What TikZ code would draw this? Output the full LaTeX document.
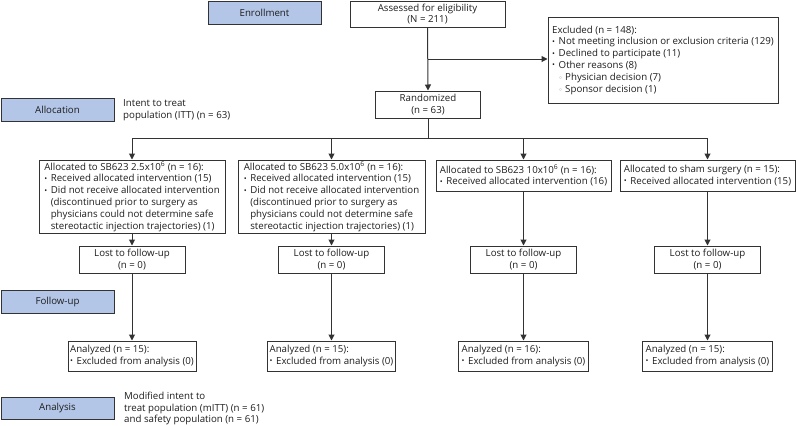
\documentclass[tikz,border=0pt]{standalone}
\usepackage{fontspec}
\setmainfont{Open Sans}
\newfontfamily\symfont{DejaVu Sans}
\usetikzlibrary{arrows.meta}
\definecolor{phase}{HTML}{B4C6E7}
\definecolor{edge}{HTML}{333333}
\definecolor{ink}{HTML}{1E1E1E}
\newcommand{\bul}{\makebox[6.5pt][l]{\raisebox{0.5pt}{\scalebox{0.8}{•}}}}
\newcommand{\subbul}{\hspace*{6.5pt}\makebox[6.5pt][l]{\textcolor{gray}{\symfont\scalebox{0.7}{◦}}}}
\newcommand{\cont}{\hspace*{6.5pt}}
\newcommand{\sx}{\textsuperscript{6}}
\begin{document}
\begin{tikzpicture}[x=1pt,y=-1pt,
  every node/.style={text=ink, font=\fontsize{9.7}{11.8}\selectfont},
  box/.style={draw=edge, line width=1pt, inner sep=1.5pt, align=left},
  cbox/.style={draw=edge, line width=1pt, inner sep=1pt, align=center},
  phasebox/.style={draw=edge, fill=phase, line width=1pt, align=center, minimum width=113pt, minimum height=23pt, inner sep=0pt},
  note/.style={anchor=west, align=left, inner sep=0pt},
  arr/.style={draw=edge, line width=1pt, -{Triangle[length=6pt,width=6pt]}},
  ln/.style={draw=edge, line width=1pt}
]
\useasboundingbox (0,0) rectangle (796,426);

% phase labels
\node[phasebox] (enroll) at (264.5,12.5) {Enrollment};
\node[phasebox] (alloc) at (57.5,109.5) {Allocation};
\node[phasebox] (follow) at (57.5,301.5) {Follow-up};
\node[phasebox, minimum height=22pt] (anal) at (57.5,408) {Analysis};
\node[note] (itt) at (123,110) {Intent to treat\\population (ITT) (n = 63)};
\node[note] (mitt) at (124,408.5) {Modified intent to\\treat population (mITT) (n = 61)\\and safety population (n = 61)};

% top
\node[cbox, minimum width=155pt, minimum height=26pt] (assess) at (427.5,14) {Assessed for eligibility\\(N = 211)};
\node[box, minimum width=230pt, minimum height=86pt] (excl) at (663,60)
 {Excluded (n = 148):\\
  \bul Not meeting inclusion or exclusion criteria (129)\\
  \bul Declined to participate (11)\\
  \bul Other reasons (8)\\
  \subbul Physician decision (7)\\
  \subbul Sponsor decision (1)};
\node[cbox, minimum width=105pt, minimum height=27pt] (rand) at (428,104.5) {Randomized\\(n = 63)};

% allocation boxes
\node[box, minimum width=186pt, minimum height=73pt] (b1) at (132,196.5)
 {Allocated to SB623 2.5x10\sx{} (n = 16):\\
  \bul Received allocated intervention (15)\\
  \bul Did not receive allocated intervention\\
  \cont(discontinued prior to surgery as\\
  \cont physicians could not determine safe\\
  \cont stereotactic injection trajectories) (1)};
\node[box, minimum width=187pt, minimum height=73pt] (b2) at (331.5,196.5)
 {Allocated to SB623 5.0x10\sx{} (n = 16):\\
  \bul Received allocated intervention (15)\\
  \bul Did not receive allocated intervention\\
  \cont(discontinued prior to surgery as\\
  \cont physicians could not determine safe\\
  \cont stereotactic injection trajectories) (1)};
\node[box, minimum width=175pt, minimum height=31pt] (b3) at (523.5,175.5)
 {Allocated to SB623 10x10\sx{} (n = 16):\\
  \bul Received allocated intervention (16)};
\node[box, minimum width=175pt, minimum height=31pt] (b4) at (707.5,175.5)
 {Allocated to sham surgery (n = 15):\\
  \bul Received allocated intervention (15)};

% lost to follow-up
\node[cbox, minimum width=106pt, minimum height=27pt] (l1) at (132,259.5) {Lost to follow-up\\(n = 0)};
\node[cbox, minimum width=106pt, minimum height=27pt] (l2) at (331.5,259.5) {Lost to follow-up\\(n = 0)};
\node[cbox, minimum width=106pt, minimum height=27pt] (l3) at (523.5,259.5) {Lost to follow-up\\(n = 0)};
\node[cbox, minimum width=106pt, minimum height=27pt] (l4) at (707.5,259.5) {Lost to follow-up\\(n = 0)};

% analyzed
\node[box, minimum width=128pt, minimum height=30pt] (a1) at (132,356) {Analyzed (n = 15):\\\bul Excluded from analysis (0)};
\node[box, minimum width=128pt, minimum height=30pt] (a2) at (331.5,356) {Analyzed (n = 15):\\\bul Excluded from analysis (0)};
\node[box, minimum width=130pt, minimum height=30pt] (a3) at (523.5,356) {Analyzed (n = 16):\\\bul Excluded from analysis (0)};
\node[box, minimum width=130pt, minimum height=30pt] (a4) at (707.5,356) {Analyzed (n = 15):\\\bul Excluded from analysis (0)};

% connectors
\coordinate (split) at (428,59);
\coordinate (bar) at (428,138);
\draw[arr] (assess.south) -- (rand.north);
\draw[arr] (split) -- (split -| excl.west);
\draw[ln] (rand.south) -- (bar);
\draw[ln] (bar -| b1.north) -- (bar -| b4.north);
\foreach \i in {1,2,3,4}{
  \draw[arr] (bar -| b\i.north) -- (b\i.north);
  \draw[arr] (b\i.south) -- (l\i.north);
  \draw[arr] (l\i.south) -- (a\i.north);
}
\end{tikzpicture}
\end{document}
